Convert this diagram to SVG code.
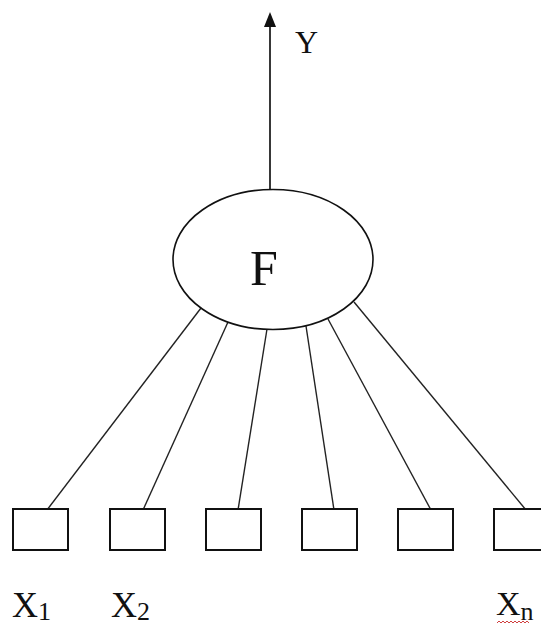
<svg xmlns="http://www.w3.org/2000/svg" width="541" height="625" viewBox="0 0 541 625">
<style>
.box{fill:#fff;stroke:#111;stroke-width:2}
.edge{stroke:#222;stroke-width:1.4;fill:none}
.lbl{font-family:"Liberation Serif","Times New Roman",serif;fill:#111}
</style>
<defs>
<marker id="arr" viewBox="0 0 15 12" refX="1" refY="6" markerWidth="15" markerHeight="12" markerUnits="userSpaceOnUse" orient="auto">
<path d="M0,0 L15,6 L0,12 Z" fill="#111"/>
</marker>
</defs>
<rect width="541" height="625" fill="#fff"/>
<g id="connectors">
<line class="edge" x1="270" y1="190" x2="270" y2="26" marker-end="url(#arr)" style="stroke-width:1.8"/>
<line class="edge" x1="201" y1="308" x2="47" y2="510"/>
<line class="edge" x1="228" y1="322" x2="143" y2="510"/>
<line class="edge" x1="267" y1="329" x2="238" y2="510"/>
<line class="edge" x1="306" y1="326" x2="334" y2="510"/>
<line class="edge" x1="328" y1="319" x2="431" y2="510"/>
<line class="edge" x1="354" y1="302" x2="526" y2="510"/>
</g>
<g id="F">
<ellipse cx="273" cy="259.5" rx="100" ry="70" fill="#fff" stroke="#111" stroke-width="1.6"/>
<text class="lbl" x="250" y="285" font-size="50">F</text>
</g>
<text id="Y" class="lbl" x="295" y="53" font-size="32">Y</text>
<g id="x1"><rect class="box" x="13" y="509" width="55" height="41"/></g>
<g id="x2"><rect class="box" x="110" y="509" width="55" height="41"/></g>
<g id="x3"><rect class="box" x="206" y="509" width="55" height="41"/></g>
<g id="x4"><rect class="box" x="302" y="509" width="55" height="41"/></g>
<g id="x5"><rect class="box" x="398" y="509" width="55" height="41"/></g>
<g id="x6"><rect class="box" x="494" y="509" width="55" height="41"/></g>
<text class="lbl" x="12" y="617" font-size="36">X<tspan font-size="26" dy="3">1</tspan></text>
<text class="lbl" x="111" y="617" font-size="36">X<tspan font-size="26" dy="3">2</tspan></text>
<text class="lbl" x="496" y="615" font-size="34">X<tspan font-size="26" dy="5">n</tspan></text>
<path d="M497,623 l2,-2 l2,2 l2,-2 l2,2 l2,-2 l2,2 l2,-2 l2,2 l2,-2 l2,2 l2,-2 l2,2 l2,-2 l2,2 l2,-2 l2,2" fill="none" stroke="#d04040" stroke-width="1"/>
</svg>
